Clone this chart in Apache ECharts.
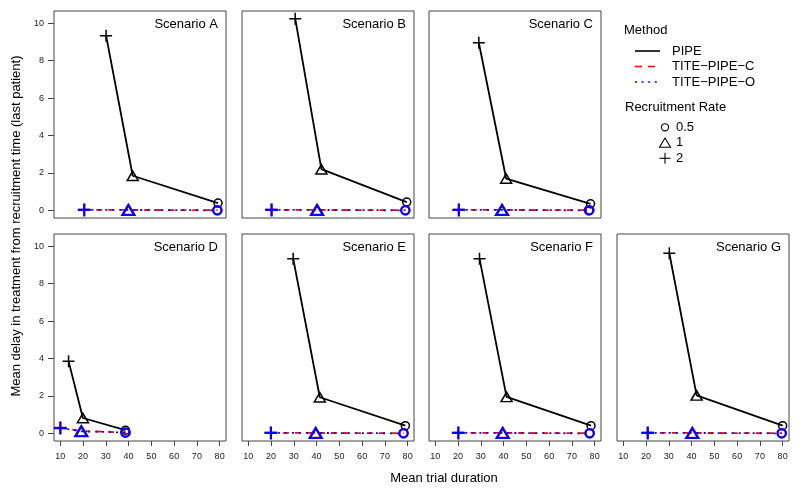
<!DOCTYPE html>
<html>
<head>
<meta charset="utf-8">
<script src="https://cdn.jsdelivr.net/npm/echarts@6/dist/echarts.min.js"></script>
<style>html,body{margin:0;padding:0;background:#fff}#chart{width:800px;height:492px}</style>
</head>
<body>
<div id="chart"></div>
<script>
// ---- data (order of points: recruitment rate 2, 1, 0.5) ----
const scenarios = ['Scenario A','Scenario B','Scenario C','Scenario D','Scenario E','Scenario F','Scenario G'];
const rates = ['2','1','0.5'];
const pipeX  = [[30.1,41.8,79.3],[30.6,42.1,79.6],[29.1,41.1,78.2],[13.6,19.9,38.6],[29.7,41.4,79.0],[29.4,41.3,78.4],[30.2,42.2,80.0]];
const pipeY  = [[9.34,1.85,0.39],[10.25,2.2,0.44],[8.96,1.7,0.35],[3.86,0.82,0.17],[9.34,1.93,0.41],[9.34,1.95,0.41],[9.63,2.03,0.41]];
const titeCX = [[20.5,39.9,79.0],[20.2,40.2,79.0],[20.3,39.3,77.9],[10.0,19.2,38.8],[19.9,39.6,78.2],[20.1,39.6,77.8],[20.7,40.3,79.6]];
const titeCY = [[0.03,0.02,0.01],[0.03,0.02,0.01],[0.03,0.02,0.01],[0.30,0.12,0.05],[0.03,0.02,0.01],[0.03,0.02,0.01],[0.03,0.02,0.01]];
const titeOX = [[20.5,39.9,79.0],[20.2,40.2,79.0],[20.3,39.3,77.5],[10.0,19.2,38.6],[19.9,39.6,78.2],[20.1,39.6,77.8],[20.7,40.3,79.6]];
const titeOY = [[0.02,0.02,0.0],[0.02,0.02,0.0],[0.02,0.02,0.0],[0.28,0.11,0.04],[0.02,0.02,0.0],[0.02,0.02,0.0],[0.02,0.02,0.0]];
const xTicks = [10,20,30,40,50,60,70,80];
const yTicks = [0,2,4,6,8,10];
const methods = ['PIPE','TITE\u2212PIPE\u2212C','TITE\u2212PIPE\u2212O'];

// ---- layout ----
const FONT = 'Liberation Sans, Arial, sans-serif';
const colLeft = [54, 242, 429, 617];
const rowTop = [11, 234];
const PW = 172, PH = 207;
const panelPos = [[0,0],[0,1],[0,2],[1,0],[1,1],[1,2],[1,3]];
const PLUS = 'path://M0,5L10,5M5,0L5,10';
const symbols = [PLUS, 'triangle', 'circle'];
const sizes = [12, [11,9.5], 8];
const sizesO = [13, [12,10], 8.5];

const grids = [], xAxes = [], yAxes = [], series = [], graphics = [];
panelPos.forEach(([r,c], i) => {
  grids.push({left: colLeft[c], top: rowTop[r], width: PW, height: PH, show: true,
    borderColor: '#444', borderWidth: 1, backgroundColor: 'transparent'});
  const showX = r === 1, showY = c === 0;
  xAxes.push({type: 'value', gridIndex: i, min: 7.2, max: 82.8, position: 'bottom',
    axisLine: {show: false, onZero: false}, splitLine: {show: false},
    axisTick: {show: showX, inside: false, length: 5, lineStyle: {color: '#444'}, customValues: xTicks},
    axisLabel: {show: showX, customValues: xTicks, fontFamily: FONT, fontSize: 9, color: '#222', margin: 11}});
  yAxes.push({type: 'value', gridIndex: i, min: -0.41, max: 10.66, position: 'left',
    axisLine: {show: false, onZero: false}, splitLine: {show: false},
    axisTick: {show: showY, inside: false, length: 6, lineStyle: {color: '#444'}, customValues: yTicks},
    axisLabel: {show: showY, customValues: yTicks, fontFamily: FONT, fontSize: 9, color: '#222', margin: 10}});
  const mk = (xs, ys, sz) => xs.map((x, j) => ({value: [x, ys[j]], symbol: symbols[j], symbolSize: sz[j]}));
  series.push({type: 'line', name: methods[0], xAxisIndex: i, yAxisIndex: i, data: mk(pipeX[i], pipeY[i], sizes),
    showAllSymbol: true, lineStyle: {color: '#000', width: 1.8, type: 'solid'},
    itemStyle: {color: 'transparent', borderColor: '#000', borderWidth: 1.5}, z: 2});
  series.push({type: 'line', name: methods[1], xAxisIndex: i, yAxisIndex: i, data: mk(titeCX[i], titeCY[i], sizes),
    showAllSymbol: true, lineStyle: {color: '#ff0000', width: 1.8, type: [6,6]},
    itemStyle: {color: 'transparent', borderColor: '#ff0000', borderWidth: 1.8}, z: 3});
  series.push({type: 'line', name: methods[2], xAxisIndex: i, yAxisIndex: i, data: mk(titeOX[i], titeOY[i], sizesO),
    showAllSymbol: true, lineStyle: {color: '#0000ff', width: 1.8, type: [2,5]},
    itemStyle: {color: 'transparent', borderColor: '#0000ff', borderWidth: 2.2}, z: 4});
  graphics.push({type: 'text', x: colLeft[c] + PW - 8, y: rowTop[r] + 13.5,
    style: {text: scenarios[i], fontFamily: FONT, fontSize: 13, fill: '#000', align: 'right', verticalAlign: 'middle'}});
});

// axis titles
graphics.push({type: 'text', x: 444, y: 478,
  style: {text: 'Mean trial duration', fontFamily: FONT, fontSize: 13, fill: '#000', align: 'center', verticalAlign: 'middle'}});
graphics.push({type: 'text', x: 16, y: 226, rotation: Math.PI / 2,
  style: {text: 'Mean delay in treatment from recruitment time (last patient)', fontFamily: FONT, fontSize: 13, fill: '#000', align: 'center', verticalAlign: 'middle'}});

// legend
const T = (text, x, y) => ({type: 'text', x, y, style: {text, fontFamily: FONT, fontSize: 13, fill: '#000', align: 'left', verticalAlign: 'middle'}});
graphics.push(T('Method', 624, 30));
const legY = [51, 66.5, 82];
const legCol = ['#000', '#ff0000', '#0000ff'];
const legDash = [null, [7,6], [2,4.6]];
methods.forEach((m, k) => {
  graphics.push({type: 'line', shape: {x1: 635, y1: legY[k], x2: 660, y2: legY[k]},
    style: {stroke: legCol[k], lineWidth: 1.6, lineDash: legDash[k]}});
  graphics.push(T(m, 672, legY[k]));
});
graphics.push(T('Recruitment Rate', 625, 107));
graphics.push({type: 'circle', shape: {cx: 665, cy: 127.3, r: 3.6}, style: {fill: 'none', stroke: '#000', lineWidth: 1.1}});
graphics.push({type: 'polygon', shape: {points: [[659.5,147.3],[670.5,147.3],[665,138]]}, style: {fill: 'none', stroke: '#000', lineWidth: 1.1}});
graphics.push({type: 'line', shape: {x1: 659.5, y1: 158.3, x2: 670.5, y2: 158.3}, style: {stroke: '#000', lineWidth: 1.1}});
graphics.push({type: 'line', shape: {x1: 665, y1: 152.8, x2: 665, y2: 163.8}, style: {stroke: '#000', lineWidth: 1.1}});
graphics.push(T('0.5', 676, 127.3));
graphics.push(T('1', 676, 142.7));
graphics.push(T('2', 676, 158.3));

const chart = echarts.init(document.getElementById('chart'), null, {renderer: 'canvas'});
chart.setOption({
  backgroundColor: '#fff',
  animation: false,
  grid: grids, xAxis: xAxes, yAxis: yAxes, series,
  graphic: graphics
});
</script>
</body>
</html>
